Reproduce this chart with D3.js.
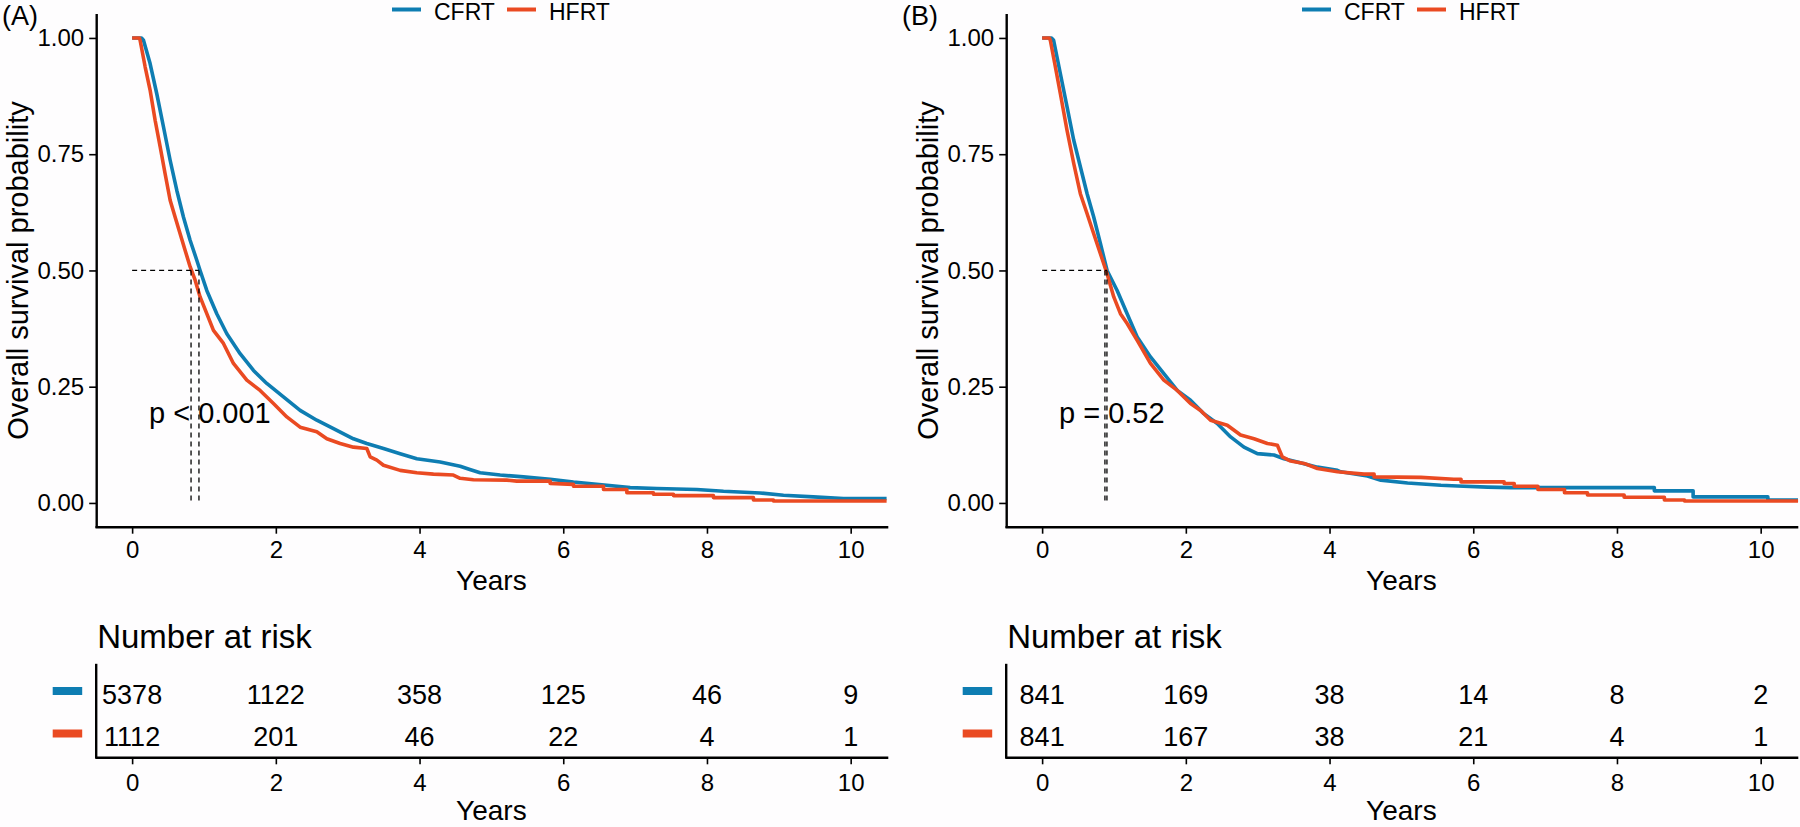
<!DOCTYPE html>
<html>
<head>
<meta charset="utf-8">
<script src="https://cdn.jsdelivr.net/npm/d3@7"></script>
<style>
  html, body { margin: 0; padding: 0; background: #fefdfe; }
  svg { display: block; font-family: "Liberation Sans", Arial, Helvetica, sans-serif; }
</style>
</head>
<body>
<svg id="chart" width="1800" height="827"></svg>
<script>
// ---------------- data ----------------
const groups = ["CFRT", "HFRT"];
const groupColors = ["#0E7DB2", "#EA4A22"];
const xTicks = [0, 2, 4, 6, 8, 10];
const yTicks = [0, 0.25, 0.5, 0.75, 1];
const panelLabels = ["(A)", "(B)"];
const pValues = ["p < 0.001", "p = 0.52"];

// Kaplan-Meier curves: [years, survival]
const survA_CFRT = [[0,1],[0.13,1],[0.158,0.995],[0.25,0.945],[0.343,0.88],[0.436,0.809],[0.529,0.737],[0.622,0.672],[0.714,0.615],[0.807,0.565],[0.9,0.522],[0.946,0.5],[1.039,0.457],[1.178,0.407],[1.318,0.364],[1.503,0.321],[1.689,0.285],[1.874,0.257],[2.106,0.228],[2.338,0.199],[2.57,0.178],[2.802,0.16],[3.08,0.138],[3.266,0.128],[3.498,0.117],[3.73,0.106],[3.962,0.095],[4.287,0.088],[4.565,0.079],[4.7,0.072],[4.843,0.065],[5.122,0.06],[5.446,0.056],[5.818,0.051],[6.142,0.045],[6.607,0.038],[6.931,0.033],[7.303,0.031],[7.859,0.029],[8.23,0.025],[8.74,0.0215],[9.065,0.0166],[9.48,0.013],[9.9,0.0095],[10.5,0.0095]];
const survA_HFRT = [[0,1],[0.1,1],[0.111,0.995],[0.181,0.938],[0.25,0.888],[0.32,0.823],[0.39,0.766],[0.459,0.708],[0.529,0.651],[0.598,0.615],[0.668,0.579],[0.738,0.543],[0.807,0.508],[0.877,0.479],[0.946,0.443],[1.039,0.407],[1.132,0.371],[1.271,0.343],[1.41,0.3],[1.596,0.264],[1.781,0.242],[1.967,0.214],[2.153,0.185],[2.338,0.163],[2.57,0.153],[2.71,0.138],[2.895,0.128],[3.08,0.12],[3.266,0.117],[3.313,0.099],[3.406,0.092],[3.498,0.081],[3.73,0.07],[3.962,0.065],[4.194,0.062],[4.47,0.06],[4.565,0.053],[4.75,0.05],[5.215,0.049],[5.354,0.047],[5.818,0.047],[5.818,0.042],[6.142,0.04],[6.142,0.036],[6.56,0.036],[6.56,0.029],[6.885,0.029],[6.885,0.022],[7.255,0.022],[7.255,0.0186],[7.534,0.0186],[7.534,0.0158],[8.09,0.0158],[8.09,0.0115],[8.647,0.0115],[8.647,0.0065],[8.925,0.0065],[8.925,0.0043],[10.5,0.0043]];
const survB_CFRT = [[0,1],[0.13,1],[0.16,0.995],[0.254,0.923],[0.347,0.852],[0.44,0.78],[0.532,0.723],[0.626,0.665],[0.718,0.615],[0.811,0.558],[0.904,0.5],[1.044,0.457],[1.183,0.407],[1.323,0.357],[1.508,0.314],[1.694,0.278],[1.88,0.242],[2.065,0.221],[2.251,0.192],[2.437,0.171],[2.623,0.142],[2.809,0.12],[2.995,0.106],[3.226,0.103],[3.366,0.095],[3.552,0.088],[3.831,0.077],[4.11,0.07],[4.156,0.067],[4.528,0.058],[4.714,0.049],[5.086,0.043],[5.55,0.038],[5.782,0.0366],[6.2,0.034],[6.525,0.033],[8.52,0.033],[8.52,0.026],[9.06,0.026],[9.06,0.013],[10.1,0.013],[10.1,0.006],[10.52,0.006]];
const survB_HFRT = [[0,1],[0.1,1],[0.114,0.995],[0.184,0.938],[0.254,0.88],[0.347,0.801],[0.44,0.73],[0.532,0.665],[0.626,0.622],[0.718,0.579],[0.811,0.536],[0.904,0.493],[0.997,0.443],[1.09,0.407],[1.183,0.386],[1.323,0.35],[1.508,0.3],[1.694,0.264],[1.88,0.242],[2.065,0.214],[2.205,0.199],[2.344,0.178],[2.577,0.167],[2.762,0.146],[2.949,0.138],[3.135,0.128],[3.274,0.124],[3.343,0.099],[3.459,0.09],[3.645,0.085],[3.831,0.074],[4.11,0.067],[4.48,0.062],[4.62,0.062],[4.62,0.056],[5.27,0.055],[5.73,0.051],[5.83,0.051],[5.83,0.0453],[6.43,0.0453],[6.43,0.0417],[6.57,0.0417],[6.57,0.036],[6.9,0.036],[6.9,0.029],[7.27,0.029],[7.27,0.022],[7.59,0.022],[7.59,0.0172],[8.1,0.0172],[8.1,0.0122],[8.66,0.0122],[8.66,0.0065],[8.94,0.0065],[8.94,0.0043],[10.52,0.0043]];

// median survival (years)
const mediansA = [0.93, 0.82];
const mediansB = [0.902, 0.874];

// numbers at risk at xTicks
const riskA_CFRT = [5378, 1122, 358, 125, 46, 9];
const riskA_HFRT = [1112, 201, 46, 22, 4, 1];
const riskB_CFRT = [841, 169, 38, 14, 8, 2];
const riskB_HFRT = [841, 167, 38, 21, 4, 1];

// ---------------- drawing ----------------
const svg = d3.select("#chart");
svg.append("rect").attr("width", 1800).attr("height", 827).attr("fill", "#fefdfe");

const panels = [
  { dx: 0,   labelX: 2,   label: panelLabels[0], curves: [survA_CFRT, survA_HFRT], medians: mediansA, risk: [riskA_CFRT, riskA_HFRT], p: pValues[0] },
  { dx: 910, labelX: 902, label: panelLabels[1], curves: [survB_CFRT, survB_HFRT], medians: mediansB, risk: [riskB_CFRT, riskB_HFRT], p: pValues[1] }
];

const AXIS_W = 2.4;

function styleAxis(g, fs) {
  g.select(".domain").attr("stroke", "#000").attr("stroke-width", AXIS_W).attr("stroke-linecap", "square");
  g.selectAll(".tick line").attr("stroke", "#000").attr("stroke-width", 1.6);
  g.selectAll(".tick text").attr("fill", "#000").style("font-size", fs + "px")
    .style("font-family", '"Liberation Sans", Arial, sans-serif');
}

panels.forEach(p => {
  const x = d3.scaleLinear().domain([-0.5, 10.5]).range([96.2 + p.dx, 886.6 + p.dx]);
  const y = d3.scaleLinear().domain([-0.05, 1.05]).range([526.2, 14.7]);
  const g = svg.append("g");

  // panel label
  g.append("text").attr("x", p.labelX).attr("y", 25).style("font-size", "27px").text(p.label);

  // legend
  const legX = [392 + p.dx, 507 + p.dx];
  groups.forEach((name, i) => {
    g.append("line").attr("x1", legX[i]).attr("x2", legX[i] + 29).attr("y1", 9.5).attr("y2", 9.5)
      .attr("stroke", groupColors[i]).attr("stroke-width", 4);
    g.append("text").attr("x", legX[i] + 42).attr("y", 19.5).style("font-size", "23px").text(name);
  });

  // axes
  const yAxis = g.append("g").attr("transform", `translate(${x.range()[0]},0)`)
    .call(d3.axisLeft(y).tickValues(yTicks).tickFormat(d3.format(".2f")).tickSize(7).tickSizeOuter(0).tickPadding(5));
  styleAxis(yAxis, 24);
  const xAxis = g.append("g").attr("transform", `translate(0,526.7)`)
    .call(d3.axisBottom(x).tickValues(xTicks).tickFormat(d3.format("d")).tickSize(7).tickSizeOuter(0).tickPadding(7));
  styleAxis(xAxis, 24);

  // axis titles
  g.append("text").attr("transform", `translate(${27.5 + p.dx},270.5) rotate(-90)`)
    .attr("text-anchor", "middle").style("font-size", "29px").text("Overall survival probability");
  g.append("text").attr("x", (x.range()[0] + x.range()[1]) / 2).attr("y", 590)
    .attr("text-anchor", "middle").style("font-size", "28px").text("Years");

  // curves
  const line = d3.line().x(d => x(d[0])).y(d => y(d[1])).curve(d3.curveLinear);
  p.curves.forEach((c, i) => {
    g.append("path").datum(c).attr("d", line).attr("fill", "none")
      .attr("stroke", groupColors[i]).attr("stroke-width", 3.6).attr("stroke-linejoin", "round");
  });

  // median lines
  const maxMed = d3.max(p.medians);
  g.append("line").attr("x1", x(0)).attr("x2", x(maxMed)).attr("y1", y(0.5)).attr("y2", y(0.5))
    .attr("stroke", "#000").attr("stroke-width", 1.3).attr("stroke-dasharray", "5,4");
  p.medians.forEach(m => {
    g.append("line").attr("x1", x(m)).attr("x2", x(m)).attr("y1", y(0.5)).attr("y2", y(0))
      .attr("stroke", "#000").attr("stroke-width", 1.3).attr("stroke-dasharray", "5,4");
  });

  // p-value
  g.append("text").attr("x", x(0.235)).attr("y", y(0.171)).style("font-size", "29px").text(p.p);

  // ---- risk table ----
  const ry = d3.scalePoint().domain(groups).range([694, 736.5]);
  g.append("text").attr("x", x.range()[0] + 1).attr("y", 648.3).style("font-size", "33px").text("Number at risk");

  g.append("line").attr("x1", x.range()[0]).attr("x2", x.range()[0]).attr("y1", 665).attr("y2", 757.3)
    .attr("stroke", "#000").attr("stroke-width", AXIS_W).attr("stroke-linecap", "square");
  const rAxis = g.append("g").attr("transform", `translate(0,757.3)`)
    .call(d3.axisBottom(x).tickValues(xTicks).tickFormat(d3.format("d")).tickSize(7).tickSizeOuter(0).tickPadding(10));
  styleAxis(rAxis, 24);

  groups.forEach((name, i) => {
    g.append("rect").attr("x", x.range()[0] - 43.5).attr("y", ry(name) - 7).attr("width", 29.5).attr("height", 8)
      .attr("fill", groupColors[i]);
    g.selectAll(null).data(p.risk[i]).enter().append("text")
      .attr("x", (d, j) => x(xTicks[j])).attr("y", ry(name)).attr("dy", "0.36em")
      .attr("text-anchor", "middle").style("font-size", "27px").text(d => d);
  });

  g.append("text").attr("x", (x.range()[0] + x.range()[1]) / 2).attr("y", 820)
    .attr("text-anchor", "middle").style("font-size", "28px").text("Years");
});
</script>
</body>
</html>
